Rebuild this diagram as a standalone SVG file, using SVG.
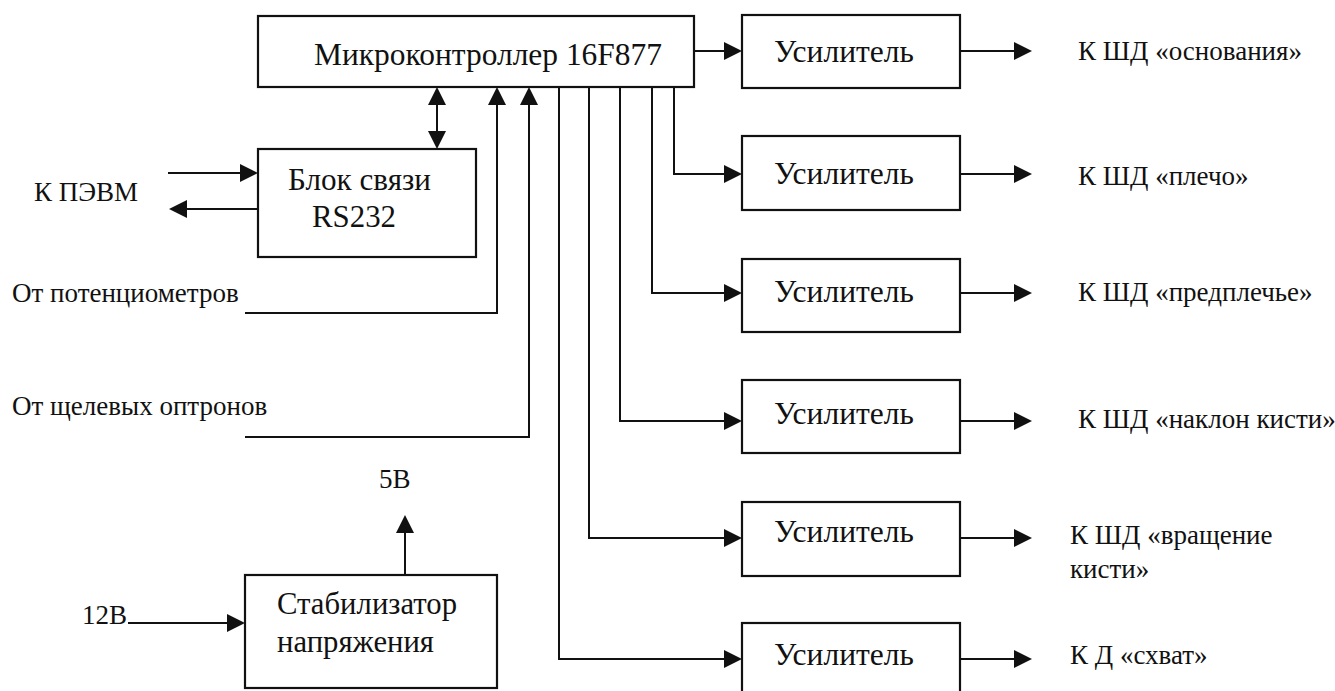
<svg xmlns="http://www.w3.org/2000/svg" width="1335" height="691" viewBox="0 0 1335 691">
  <defs>
    <!-- filled arrowhead; tip sits 8px beyond the path end -->
    <marker id="arrow" viewBox="0 0 18 18" refX="10" refY="9" markerWidth="18" markerHeight="18" markerUnits="userSpaceOnUse" orient="auto-start-reverse">
      <path d="M0,0 L18,9 L0,18 Z" fill="#111"/>
    </marker>
  </defs>
  <style>
    .box { fill: #fff; stroke: #111; stroke-width: 2.2; }
    .wire { fill: none; stroke: #111; stroke-width: 2; }
    .arr { marker-end: url(#arrow); }
    text { fill: #111; }
    .big { font-size: 31px; }
    .lbl { font-size: 27px; }
  </style>
  <rect width="1335" height="691" fill="#fff"/>

  <!-- connectors -->
  <g id="connectors">
    <!-- controller to first amplifier -->
    <path class="wire arr" d="M694,51 H734"/>
    <!-- controller outputs to amplifiers 2..6 -->
    <path class="wire arr" d="M674,87 V174 H734"/>
    <path class="wire arr" d="M652,87 V293 H734"/>
    <path class="wire arr" d="M620,87 V421 H734"/>
    <path class="wire arr" d="M589,87 V538 H734"/>
    <path class="wire arr" d="M559,87 V659 H734"/>
    <!-- amplifier outputs -->
    <path class="wire arr" d="M960,51 H1024"/>
    <path class="wire arr" d="M960,174 H1024"/>
    <path class="wire arr" d="M960,293 H1024"/>
    <path class="wire arr" d="M960,421 H1024"/>
    <path class="wire arr" d="M960,538 H1024"/>
    <path class="wire arr" d="M960,659 H1024"/>
    <!-- controller <-> RS232 -->
    <path class="wire" d="M437,95 V141" marker-start="url(#arrow)" marker-end="url(#arrow)"/>
    <!-- PC link -->
    <path class="wire arr" d="M168,173 H250"/>
    <path class="wire arr" d="M258,209 H177"/>
    <!-- sensor inputs -->
    <path class="wire arr" d="M245,313 H497 V95"/>
    <path class="wire arr" d="M245,437 H529 V95"/>
    <!-- power -->
    <path class="wire arr" d="M405,575 V523"/>
    <path class="wire arr" d="M128,623 H237"/>
  </g>

  <g font-family="'Liberation Serif', 'Times New Roman', 'DejaVu Serif', serif">
  <g id="mcu">
    <rect class="box" x="258" y="16" width="436" height="71"/>
    <text class="big" x="314" y="65" textLength="348" lengthAdjust="spacingAndGlyphs">Микроконтроллер 16F877</text>
  </g>

  <g id="rs232">
    <rect class="box" x="258" y="149" width="218" height="108"/>
    <text class="big" x="288" y="190" textLength="143" lengthAdjust="spacingAndGlyphs">Блок связи</text>
    <text class="big" x="312" y="227" textLength="84" lengthAdjust="spacingAndGlyphs">RS232</text>
  </g>

  <g id="stabilizer">
    <rect class="box" x="245" y="575" width="252" height="113"/>
    <text class="big" x="277" y="614" textLength="180" lengthAdjust="spacingAndGlyphs">Стабилизатор</text>
    <text class="big" x="277" y="652" textLength="157" lengthAdjust="spacingAndGlyphs">напряжения</text>
  </g>

  <g id="amp1">
    <rect class="box" x="742" y="15" width="218" height="73"/>
    <text class="big" x="774" y="62" textLength="140" lengthAdjust="spacingAndGlyphs">Усилитель</text>
  </g>
  <g id="amp2">
    <rect class="box" x="742" y="136" width="218" height="74"/>
    <text class="big" x="774" y="184" textLength="140" lengthAdjust="spacingAndGlyphs">Усилитель</text>
  </g>
  <g id="amp3">
    <rect class="box" x="742" y="259" width="218" height="73"/>
    <text class="big" x="774" y="302" textLength="140" lengthAdjust="spacingAndGlyphs">Усилитель</text>
  </g>
  <g id="amp4">
    <rect class="box" x="742" y="380" width="218" height="73"/>
    <text class="big" x="774" y="424" textLength="140" lengthAdjust="spacingAndGlyphs">Усилитель</text>
  </g>
  <g id="amp5">
    <rect class="box" x="742" y="502" width="218" height="74"/>
    <text class="big" x="774" y="542" textLength="140" lengthAdjust="spacingAndGlyphs">Усилитель</text>
  </g>
  <g id="amp6">
    <rect class="box" x="742" y="623" width="218" height="74"/>
    <text class="big" x="774" y="665" textLength="140" lengthAdjust="spacingAndGlyphs">Усилитель</text>
  </g>

  <!-- signal labels -->
  <g id="labels">
    <text class="lbl" x="34" y="201">К ПЭВМ</text>
    <text class="lbl" x="12" y="302">От потенциометров</text>
    <text class="lbl" x="12" y="415">От щелевых оптронов</text>
    <text class="lbl" x="379" y="488">5В</text>
    <text class="lbl" x="82" y="624">12В</text>
    <text class="lbl" x="1078" y="60">К ШД «основания»</text>
    <text class="lbl" x="1078" y="185">К ШД «плечо»</text>
    <text class="lbl" x="1078" y="301">К ШД «предплечье»</text>
    <text class="lbl" x="1078" y="428">К ШД «наклон кисти»</text>
    <text class="lbl" x="1070" y="544">К ШД «вращение</text>
    <text class="lbl" x="1070" y="578">кисти»</text>
    <text class="lbl" x="1070" y="664">К Д «схват»</text>
  </g>
  </g>
</svg>
